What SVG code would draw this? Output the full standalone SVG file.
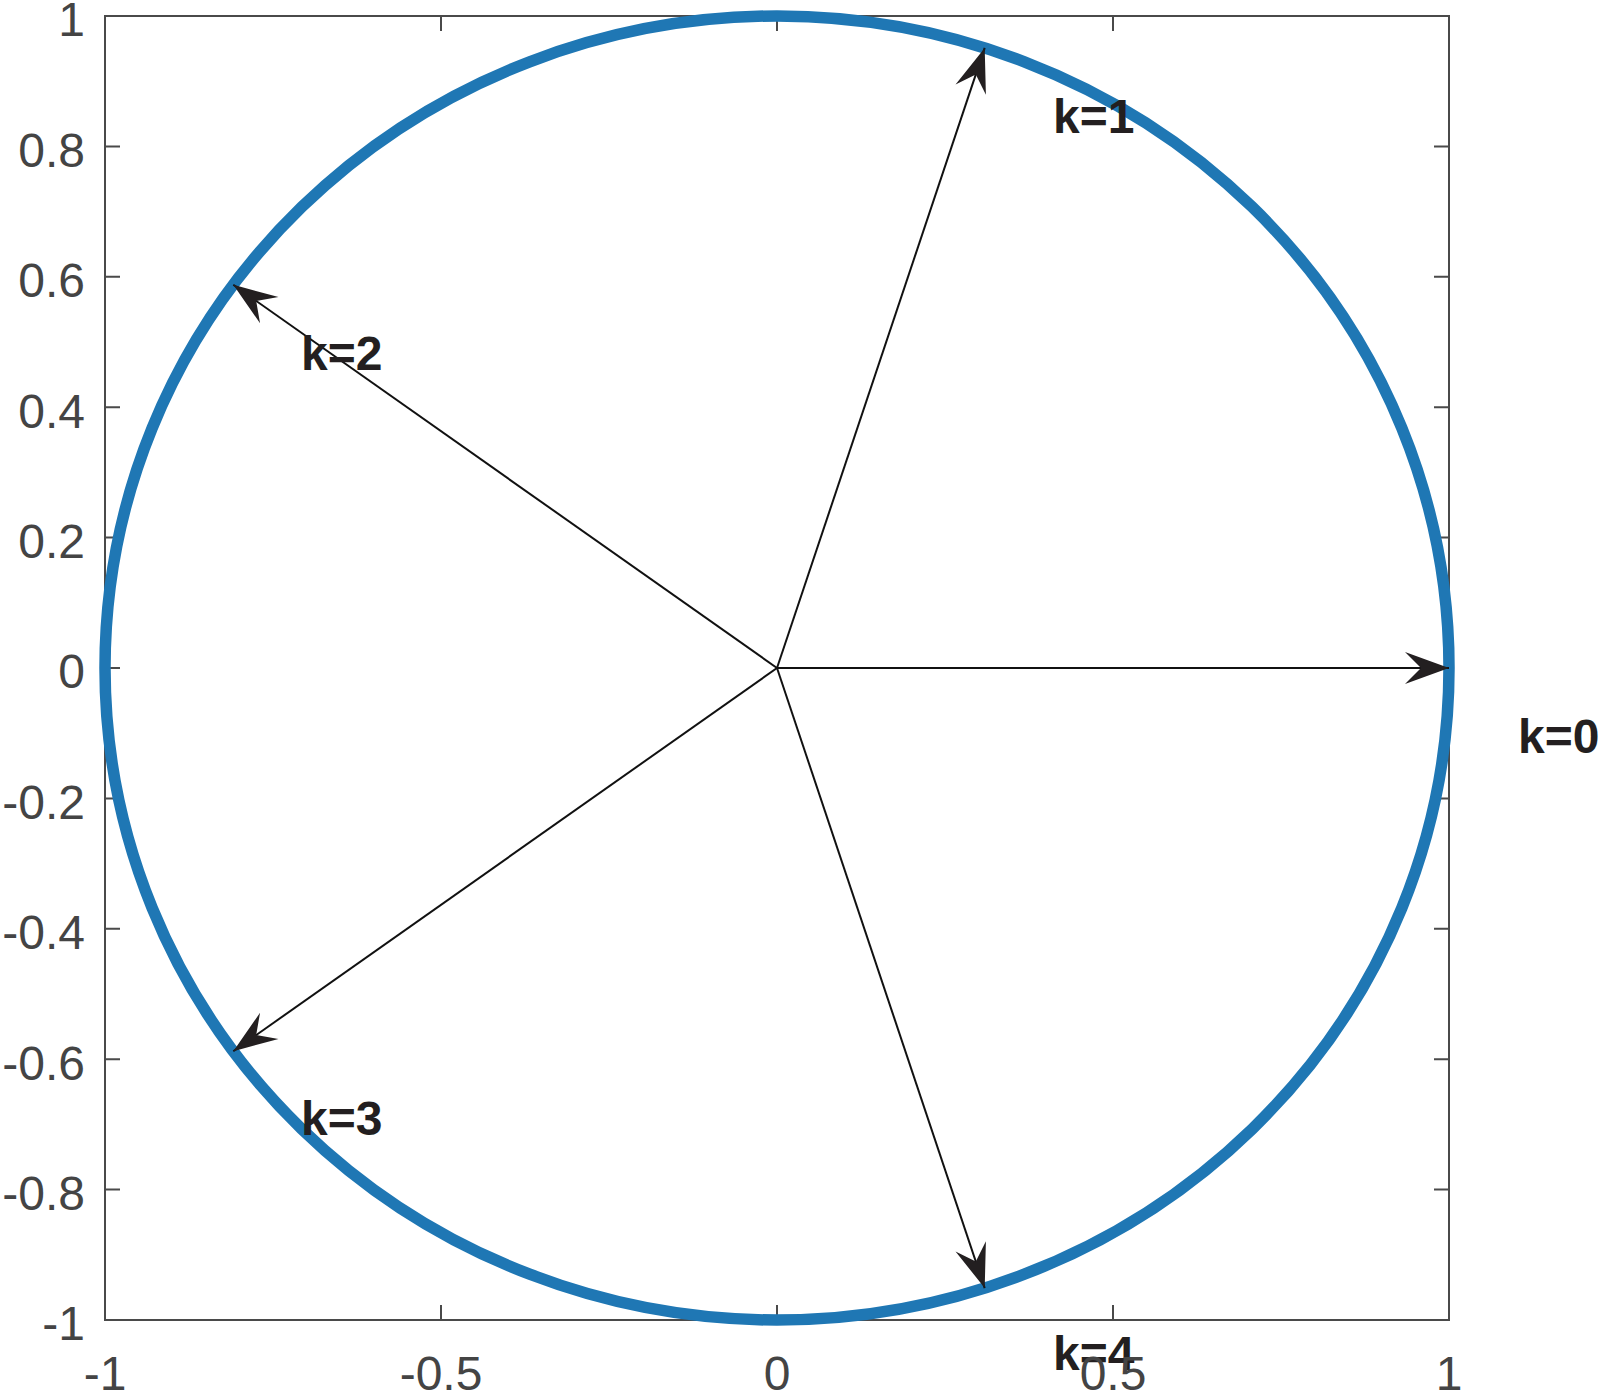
<svg xmlns="http://www.w3.org/2000/svg" width="1600" height="1393" viewBox="0 0 1600 1393">
<style>
.ax{stroke:#4a4a4a;stroke-width:2;fill:none}
.tl{font-family:"Liberation Sans",Arial,sans-serif;font-size:48px;fill:#444}
.yl{text-anchor:end}
.xl{text-anchor:middle}
.vec{stroke:#111;stroke-width:2;fill:none;marker-end:url(#ah)}
.lab{font-family:"Liberation Sans",Arial,sans-serif;font-size:48px;font-weight:bold;fill:#231f20}
</style>
<defs>
<marker id="ah" markerUnits="userSpaceOnUse" viewBox="-46 -18 48 36" markerWidth="48" markerHeight="36" refX="0" refY="0" orient="auto">
<path d="M0,0 L-44,-16 L-28,0 L-44,16 Z" fill="#231f20"/>
</marker>
</defs>
<rect width="1600" height="1393" fill="#fff"/>
<g id="axes">
<rect class="ax" x="105" y="16" width="1344" height="1304"/>
<path class="ax" d="M105,16h15M1449,16h-15M105,146.4h15M1449,146.4h-15M105,276.8h15M1449,276.8h-15M105,407.2h15M1449,407.2h-15M105,537.6h15M1449,537.6h-15M105,668h15M1449,668h-15M105,798.4h15M1449,798.4h-15M105,928.8h15M1449,928.8h-15M105,1059.2h15M1449,1059.2h-15M105,1189.6h15M1449,1189.6h-15M105,1320h15M1449,1320h-15"/>
<path class="ax" d="M105,1320v-15M105,16v15M441,1320v-15M441,16v15M777,1320v-15M777,16v15M1113,1320v-15M1113,16v15M1449,1320v-15M1449,16v15"/>
<g class="tl yl">
<text x="85" y="36">1</text>
<text x="85" y="167">0.8</text>
<text x="85" y="297">0.6</text>
<text x="85" y="428">0.4</text>
<text x="85" y="558">0.2</text>
<text x="85" y="688">0</text>
<text x="85" y="819">-0.2</text>
<text x="85" y="949">-0.4</text>
<text x="85" y="1080">-0.6</text>
<text x="85" y="1210">-0.8</text>
<text x="85" y="1340">-1</text>
</g>
</g>
<g id="circle">
<ellipse cx="777" cy="668" rx="672" ry="652" fill="none" stroke="#1f77b4" stroke-width="11.5"/>
</g>
<g id="connectors">
<line class="vec" x1="777" y1="668" x2="1449" y2="668"/>
<line class="vec" x1="777" y1="668" x2="984.7" y2="47.9"/>
<line class="vec" x1="777" y1="668" x2="233.3" y2="284.8"/>
<line class="vec" x1="777" y1="668" x2="233.3" y2="1051.2"/>
<line class="vec" x1="777" y1="668" x2="984.7" y2="1288.1"/>
</g>
<g id="k0"><text class="lab" x="1518" y="753">k=0</text></g>
<g id="k1"><text class="lab" x="1053" y="133">k=1</text></g>
<g id="k2"><text class="lab" x="301" y="370">k=2</text></g>
<g id="k3"><text class="lab" x="301" y="1135">k=3</text></g>
<g id="k4"><text class="lab" x="1053" y="1370">k=4</text></g>
<g id="xticklabels" class="tl xl">
<text x="105" y="1390">-1</text>
<text x="441" y="1390">-0.5</text>
<text x="777" y="1390">0</text>
<text x="1113" y="1390">0.5</text>
<text x="1449" y="1390">1</text>
</g>
</svg>
